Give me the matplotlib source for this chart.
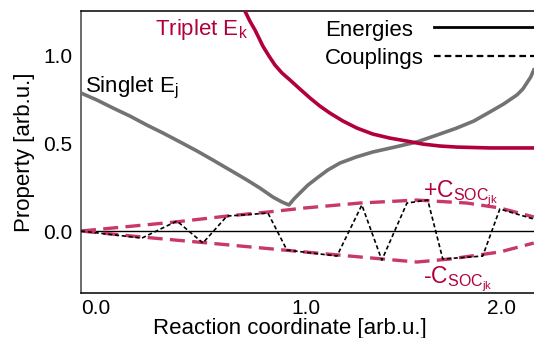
import matplotlib
matplotlib.use("Agg")
import matplotlib.pyplot as plt
from matplotlib.lines import Line2D

plt.rcParams['font.family'] = ['Liberation Sans', 'DejaVu Sans']
plt.rcParams['mathtext.fontset'] = 'custom'
plt.rcParams['mathtext.rm'] = 'Liberation Sans'
plt.rcParams['mathtext.it'] = 'Liberation Sans:italic'

# ---- data ----
singlet_x = [0.0, 0.078, 0.155, 0.238, 0.320, 0.398, 0.481, 0.563, 0.641, 0.723,
             0.806, 0.869, 0.932, 0.976, 1.010, 1.034, 1.063, 1.102, 1.146, 1.199,
             1.257, 1.335, 1.417, 1.524, 1.631, 1.728, 1.825, 1.908, 1.985, 2.053,
             2.117, 2.146, 2.165, 2.184, 2.199]
singlet_y = [0.784, 0.744, 0.699, 0.653, 0.602, 0.557, 0.506, 0.455, 0.403, 0.347,
             0.290, 0.244, 0.193, 0.165, 0.148, 0.182, 0.216, 0.261, 0.301, 0.347,
             0.386, 0.420, 0.449, 0.477, 0.506, 0.545, 0.585, 0.625, 0.676, 0.722,
             0.773, 0.807, 0.841, 0.875, 0.915]

triplet_x = [0.796, 0.820, 0.845, 0.864, 0.883, 0.913, 0.942, 0.976, 1.015, 1.063,
             1.112, 1.160, 1.209, 1.272, 1.340, 1.417, 1.500, 1.583, 1.660, 1.743,
             1.825, 1.985, 2.199]
triplet_y = [1.25, 1.193, 1.142, 1.097, 1.051, 0.994, 0.943, 0.898, 0.858, 0.807,
             0.756, 0.710, 0.670, 0.625, 0.585, 0.551, 0.528, 0.511, 0.494, 0.483,
             0.477, 0.472, 0.472]

upper_x = [0.0, 0.456, 0.709, 0.908, 1.087, 1.354, 1.631, 1.874, 2.034, 2.199]
upper_y = [0.0, 0.051, 0.085, 0.108, 0.131, 0.159, 0.176, 0.159, 0.131, 0.080]

lower_x = [0.0, 0.296, 0.617, 1.087, 1.466, 1.631, 1.791, 2.034, 2.199]
lower_y = [0.0, -0.034, -0.068, -0.119, -0.159, -0.176, -0.159, -0.119, -0.068]

coup_x = [0.0, 0.296, 0.466, 0.592, 0.709, 0.908, 1.000, 1.243, 1.364, 1.461,
          1.583, 1.684, 1.757, 1.951, 2.034, 2.199]
coup_y = [0.0, -0.040, 0.057, -0.068, 0.085, 0.102, -0.108, -0.142, 0.148, -0.165,
          0.159, 0.176, -0.159, -0.142, 0.125, 0.068]

xtick_pos = [0.073, 1.092, 2.044]
xtick_labels = ["0.0", "1.0", "2.0"]
ytick_pos = [0.0, 0.5, 1.0]
ytick_labels = ["0.0", "0.5", "1.0"]
legend_labels = ["Energies", "Couplings"]

# ---- styling ----
GRAY = '#737373'
CRIMSON = '#b1003c'
PINK = '#c8386a'

fig = plt.figure(figsize=(5.34, 3.38), dpi=100)
ax = fig.add_axes([81/534, 45/338, 453/534, 282/338])

ax.axhline(0, color='black', lw=1.0, zorder=1)
ax.plot(singlet_x, singlet_y, color=GRAY, lw=2.6, solid_joinstyle='round', zorder=3)
ax.plot(triplet_x, triplet_y, color=CRIMSON, lw=2.6, solid_joinstyle='round', zorder=3)
ax.plot(upper_x, upper_y, color=PINK, lw=2.4, dashes=(4.5, 2.2), zorder=2)
ax.plot(lower_x, lower_y, color=PINK, lw=2.4, dashes=(4.5, 2.2), zorder=2)
ax.plot(coup_x, coup_y, color='black', lw=1.2, dashes=(2.5, 1.6), zorder=4)

ax.set_xlim(0, 2.2)
ax.set_ylim(-0.352, 1.25)
ax.set_xticks(xtick_pos)
ax.set_xticklabels(xtick_labels)
ax.set_yticks(ytick_pos)
ax.set_yticklabels(ytick_labels)
ax.tick_params(length=0, labelsize=15)
ax.tick_params(axis='x', pad=4)
ax.tick_params(axis='y', pad=6)

for s in ['top', 'bottom', 'left']:
    ax.spines[s].set_linewidth(1.1)
ax.spines['left'].set_color('#444444')
ax.spines['right'].set_visible(False)

ax.set_xlabel("Reaction coordinate [arb.u.]", fontsize=16)
ax.xaxis.set_label_coords((289.5 - 81) / 453, -0.088)
ax.set_ylabel("Property [arb.u.]", fontsize=16)
ax.yaxis.set_label_coords(-0.102, 0.5)

ax.text(0.359, 1.114, r"Triplet E$_\mathregular{k}$", color=CRIMSON, fontsize=16, va='baseline')
ax.text(0.019, 0.79, r"Singlet E$_\mathregular{j}$", color='black', fontsize=16, va='baseline')
ax.text(1.66, 0.193, r"+C$_{\mathregular{SOC}_{\mathregular{jk}}}$", color=CRIMSON, fontsize=16.5, va='baseline')
ax.text(1.66, -0.30, r"-C$_{\mathregular{SOC}_{\mathregular{jk}}}$", color=CRIMSON, fontsize=16.5, va='baseline')

# legend: left-aligned text column, then a column of line keys
invis = [Line2D([], [], visible=False), Line2D([], [], visible=False)]
leg_text = ax.legend(invis, legend_labels, loc='upper left',
                     bbox_to_anchor=((325 - 81) / 453, 1 - 9 / 282), frameon=False,
                     handlelength=0, handletextpad=0, borderpad=0,
                     borderaxespad=0, labelspacing=0.3, fontsize=16)
ax.add_artist(leg_text)
keys = [Line2D([], [], color='black', lw=2.0),
        Line2D([], [], color='black', lw=1.6, dashes=(3.0, 1.8))]
leg_keys = ax.legend(keys, ["", ""], loc='upper left',
                     bbox_to_anchor=((434 - 81) / 453, 1 - 8 / 282), frameon=False,
                     handlelength=5.3, handletextpad=0, borderpad=0,
                     borderaxespad=0, labelspacing=0.35, fontsize=16)

fig.savefig("out.png", dpi=100)
